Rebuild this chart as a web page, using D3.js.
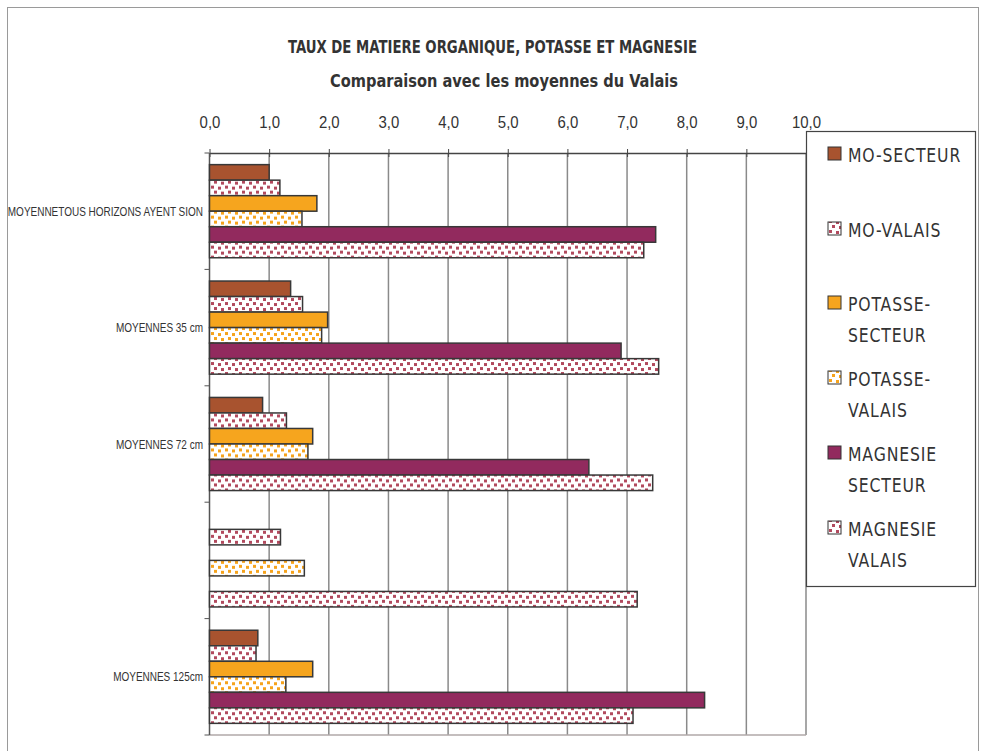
<!DOCTYPE html>
<html>
<head>
<meta charset="utf-8">
<script src="https://cdn.jsdelivr.net/npm/d3@7"></script>
<style>
  body { margin: 0; background: #fff; }
  svg { display: block; }
</style>
</head>
<body>
<div id="chart"></div>
<script>
// categories (top to bottom) - the 4th one has no label in the original
const categories = ["MOYENNETOUS HORIZONS AYENT SION", "MOYENNES 35 cm", "MOYENNES 72 cm", "", "MOYENNES 125cm"];
const seriesNames = ["MO-SECTEUR", "MO-VALAIS", "POTASSE-SECTEUR", "POTASSE-VALAIS", "MAGNESIE SECTEUR", "MAGNESIE VALAIS"];
const legendLines = [["MO-SECTEUR"], ["MO-VALAIS"], ["POTASSE-", "SECTEUR"], ["POTASSE-", "VALAIS"], ["MAGNESIE", "SECTEUR"], ["MAGNESIE", "VALAIS"]];

const moSecteur = [1.0, 1.36, 0.89, null, 0.81];
const moValais = [1.18, 1.56, 1.29, 1.19, 0.78];
const potasseSecteur = [1.80, 1.98, 1.73, null, 1.73];
const potasseValais = [1.55, 1.88, 1.65, 1.59, 1.28];
const magnesieSecteur = [7.48, 6.90, 6.36, null, 8.30];
const magnesieValais = [7.28, 7.53, 7.43, 7.17, 7.10];

const xTicks = [0, 1, 2, 3, 4, 5, 6, 7, 8, 9, 10];

const allSeries = [moSecteur, moValais, potasseSecteur, potasseValais, magnesieSecteur, magnesieValais];

const width = 985, height = 751;
const plot = { left: 209.5, right: 806, top: 153, bottom: 735 };
const condensed = "'DejaVu Sans Condensed', 'DejaVu Sans', sans-serif";
const narrow = "'Liberation Sans', Arial, sans-serif";

const svg = d3.select("#chart").append("svg")
    .attr("width", width)
    .attr("height", height);

// patterns (confetti style) for the "Valais" series
const defs = svg.append("defs");
function confetti(id, color) {
    const p = defs.append("pattern")
        .attr("id", id)
        .attr("patternUnits", "userSpaceOnUse")
        .attr("width", 14)
        .attr("height", 10);
    p.append("rect").attr("width", 14).attr("height", 10).attr("fill", "#fff");
    const sq = [[1, 1], [8, 2], [4, 6], [11, 7]];
    sq.forEach(s => p.append("rect")
        .attr("x", s[0]).attr("y", s[1])
        .attr("width", 3).attr("height", 3)
        .attr("fill", color));
}
confetti("pat-mo", "#b24a5e");
confetti("pat-pot", "#f6a31c");
confetti("pat-mg", "#b24a5e");

const fills = ["#a8532f", "url(#pat-mo)", "#f6a51e", "url(#pat-pot)", "#922a5e", "url(#pat-mg)"];

// outer frame
svg.append("rect")
    .attr("x", 7.5).attr("y", 7.5)
    .attr("width", 971).attr("height", 770)
    .attr("fill", "none")
    .attr("stroke", "#9a9a9a")
    .attr("stroke-width", 1);

// titles
svg.append("text")
    .attr("x", 492.5).attr("y", 53)
    .attr("text-anchor", "middle")
    .attr("textLength", 409)
    .attr("lengthAdjust", "spacingAndGlyphs")
    .style("font-family", condensed)
    .style("font-weight", "bold")
    .style("font-size", "17px")
    .style("fill", "#333")
    .text("TAUX DE MATIERE ORGANIQUE, POTASSE ET MAGNESIE");

svg.append("text")
    .attr("x", 504).attr("y", 87)
    .attr("text-anchor", "middle")
    .attr("textLength", 348)
    .attr("lengthAdjust", "spacingAndGlyphs")
    .style("font-family", condensed)
    .style("font-weight", "bold")
    .style("font-size", "17px")
    .style("fill", "#333")
    .text("Comparaison avec les moyennes du Valais");

// scales
const x = d3.scaleLinear().domain([0, 10]).range([plot.left, plot.right]);
const y = d3.scaleBand()
    .domain(d3.range(categories.length))
    .range([plot.top, plot.bottom])
    .paddingInner(0.2)
    .paddingOuter(0.1);
const ySub = d3.scaleBand()
    .domain(d3.range(seriesNames.length))
    .range([0, y.bandwidth()]);

// gridlines
svg.append("g")
    .selectAll("line")
    .data(xTicks.filter(d => d > 0))
    .join("line")
    .attr("x1", d => x(d)).attr("x2", d => x(d))
    .attr("y1", plot.top).attr("y2", plot.bottom)
    .attr("stroke", "#8a8a8a")
    .attr("stroke-width", 1.5);

// bottom border
svg.append("line")
    .attr("x1", plot.left).attr("x2", plot.right)
    .attr("y1", plot.bottom).attr("y2", plot.bottom)
    .attr("stroke", "#b0a8a8")
    .attr("stroke-width", 1.5);

// top axis
const xAxis = d3.axisTop(x)
    .tickValues(xTicks)
    .tickSize(0)
    .tickPadding(25)
    .tickFormat(d => d3.format(".1f")(d).replace(".", ","));

const gx = svg.append("g")
    .attr("transform", `translate(0,${plot.top})`)
    .call(xAxis);
gx.select(".domain").attr("stroke", "#444").attr("stroke-width", 1.5);
gx.selectAll("text")
    .attr("transform", "scale(0.88,1)")
    .style("font-family", narrow)
    .style("font-size", "17px")
    .style("fill", "#333");
gx.selectAll(".tick").append("line")
    .attr("y1", -4).attr("y2", 4)
    .attr("stroke", "#444");

// left axis
svg.append("line")
    .attr("x1", plot.left).attr("x2", plot.left)
    .attr("y1", plot.top).attr("y2", plot.bottom)
    .attr("stroke", "#555")
    .attr("stroke-width", 1.5);

const bounds = d3.range(categories.length + 1).map(i => plot.top + i * y.step());
svg.append("g")
    .selectAll("line")
    .data(bounds)
    .join("line")
    .attr("x1", plot.left - 5).attr("x2", plot.left)
    .attr("y1", d => d).attr("y2", d => d)
    .attr("stroke", "#555");

// category labels, squeezed to look like a narrow face
svg.append("g")
    .selectAll("text")
    .data(categories)
    .join("text")
    .attr("transform", (d, i) => `translate(203,${y(i) + y.bandwidth() / 2 + 4.5}) scale(0.8,1)`)
    .attr("text-anchor", "end")
    .style("font-family", narrow)
    .style("font-size", "12.5px")
    .style("fill", "#333")
    .text(d => d);

// bars
const groups = svg.append("g")
    .selectAll("g.cat")
    .data(categories.map((c, i) => i))
    .join("g")
    .attr("class", "cat")
    .attr("transform", i => `translate(0,${y(i)})`);

groups.selectAll("rect")
    .data(i => allSeries.map((s, k) => ({ k, v: s[i] })).filter(d => d.v != null))
    .join("rect")
    .attr("x", x(0))
    .attr("y", d => ySub(d.k))
    .attr("width", d => x(d.v) - x(0))
    .attr("height", ySub.bandwidth())
    .attr("fill", d => fills[d.k])
    .attr("stroke", "#383838")
    .attr("stroke-width", 1.5);

// legend
const legend = svg.append("g");
legend.append("rect")
    .attr("x", 806.5).attr("y", 131.5)
    .attr("width", 169).attr("height", 455)
    .attr("fill", "#fff")
    .attr("stroke", "#444")
    .attr("stroke-width", 1.2);

const legendY = [154, 229, 303, 378, 453, 528];
const items = legend.selectAll("g.item")
    .data(seriesNames)
    .join("g")
    .attr("class", "item")
    .attr("transform", (d, i) => `translate(828,${legendY[i]})`);

items.append("rect")
    .attr("x", 0).attr("y", -7)
    .attr("width", 13).attr("height", 13)
    .attr("fill", (d, i) => fills[i])
    .attr("stroke", "#333")
    .attr("stroke-width", 1);

items.each(function (d, i) {
    const t = d3.select(this).append("text")
        .attr("transform", "translate(20,7.5) scale(0.87,1)")
        .style("font-family", condensed)
        .style("font-size", "20px")
        .style("letter-spacing", "1px")
        .style("fill", "#333");
    legendLines[i].forEach((line, j) => {
        t.append("tspan").attr("x", 0).attr("dy", j === 0 ? 0 : 32).text(line);
    });
});
</script>
</body>
</html>
